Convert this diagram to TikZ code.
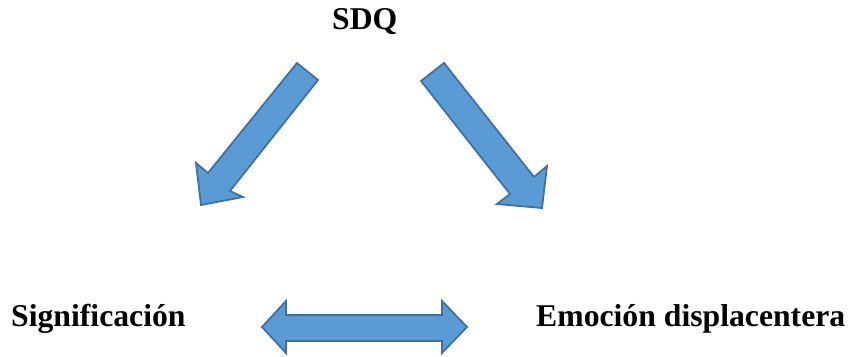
\documentclass[tikz,border=0pt]{standalone}
\usepackage{fontspec}
\setmainfont{Liberation Serif}
\definecolor{blockfill}{HTML}{5B9BD5}
\definecolor{blockline}{HTML}{41719C}
\begin{document}
\begin{tikzpicture}[x=1pt,y=-1pt,
  blockarrow/.style={fill=blockfill,draw=blockline,line width=1.8pt,line join=miter},
  lbl/.style={font=\fontsize{31.7}{36}\selectfont\bfseries,anchor=base west,inner sep=0pt}]
\useasboundingbox (0,0) rectangle (851,356);
\node[lbl] (sdq) at (332,29) {SDQ};
\node[lbl] (sig) at (11,326.5) {Significación};
\node[lbl] (emo) at (536,326.5) {Emoción displacentera};
% left arrow
\draw[blockarrow] (297,63) -- (318,80) -- (230,191) -- (243,197) -- (201,205) -- (196,163) -- (208,173) -- cycle;
% right arrow
\draw[blockarrow] (421,81) -- (444,63) -- (534,177) -- (547,166) -- (542,208) -- (497,204) -- (510,194) -- cycle;
% double arrow
\draw[blockarrow] (262,327) -- (286,301) -- (286,315) -- (442,315) -- (442,301) -- (467,327) -- (442,353) -- (442,341) -- (286,341) -- (286,353) -- cycle;
\end{tikzpicture}
\end{document}
